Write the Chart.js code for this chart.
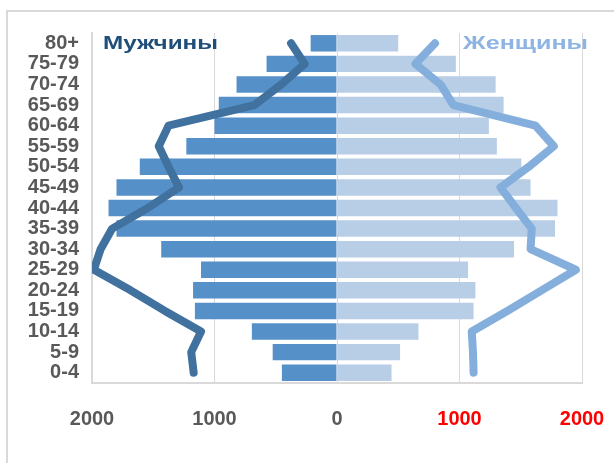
<!DOCTYPE html>
<html>
<head>
<meta charset="utf-8">
<script src="https://cdn.jsdelivr.net/npm/chart.js@4"></script>
<style>
  body { margin: 0; background: #fff; }
  canvas { display: block; }
</style>
</head>
<body>
<canvas id="pyramid" width="614" height="463"></canvas>
<script>
/* ─── data (bottom to top) ─── */
const ageGroups = ['0-4', '5-9', '10-14', '15-19', '20-24', '25-29', '30-34', '35-39', '40-44',
  '45-49', '50-54', '55-59', '60-64', '65-69', '70-74', '75-79', '80+'];
const maleBars = [450, 525, 695, 1160, 1175, 1110, 1435, 1800, 1865, 1800, 1610, 1230, 1000, 965, 820, 575, 215];
const femaleBars = [445, 515, 665, 1115, 1130, 1070, 1445, 1780, 1800, 1580, 1505, 1305, 1240, 1360, 1295, 970, 500];
const maleLine = [1170, 1190, 1110, 1405, 1685, 1985, 1930, 1835, 1545, 1290, 1375, 1455, 1375, 675, 455, 265, 375];
const femaleLine = [1115, 1110, 1100, 1390, 1670, 1950, 1580, 1590, 1460, 1335, 1565, 1770, 1620, 950, 845, 640, 800];
const xTicks = [-2000, -1000, 0, 1000, 2000];

const MALE_BAR = '#5590C9';
const FEMALE_BAR = '#B8CDE6';
const MALE_LINE = '#41729F';
const FEMALE_LINE = '#84AFDC';
const GRID = '#D9D9D9';
const LABEL = '#595959';

const neg = (arr) => arr.map(v => -v);

/* frame + series names */
const decor = {
  id: 'decor',
  beforeDraw(chart) {
    const c = chart.ctx;
    c.save();
    c.strokeStyle = GRID;
    c.lineWidth = 2;
    c.beginPath();
    c.moveTo(7, 463);
    c.lineTo(7, 11);
    c.lineTo(614, 11);
    c.stroke();
    c.restore();
  },
  afterDraw(chart) {
    const c = chart.ctx;
    const put = (text, x, w, color) => {
      c.save();
      c.font = 'bold 19px "Liberation Sans", Arial, sans-serif';
      c.fillStyle = color;
      c.textBaseline = 'middle';
      const sx = w / c.measureText(text).width;
      c.translate(x, 44);
      c.scale(sx, 1);
      c.fillText(text, 0, 0);
      c.restore();
    };
    put('Мужчины', 103, 115, '#1F4E79');
    put('Женщины', 463, 125, '#8EB4E3');
  }
};

new Chart(document.getElementById('pyramid'), {
  data: {
    labels: ageGroups,
    datasets: [
      {
        type: 'line', indexAxis: 'y', data: neg(maleLine), order: 0,
        borderColor: MALE_LINE, borderWidth: 8, pointRadius: 0,
        borderCapStyle: 'round', borderJoinStyle: 'round', tension: 0,
      },
      {
        type: 'line', indexAxis: 'y', data: femaleLine, order: 0,
        borderColor: FEMALE_LINE, borderWidth: 8, pointRadius: 0,
        borderCapStyle: 'round', borderJoinStyle: 'round', tension: 0,
      },
      {
        type: 'bar', indexAxis: 'y', data: neg(maleBars), order: 1, grouped: false,
        backgroundColor: MALE_BAR, barPercentage: 0.8, categoryPercentage: 1,
      },
      {
        type: 'bar', indexAxis: 'y', data: femaleBars, order: 1, grouped: false,
        backgroundColor: FEMALE_BAR, barPercentage: 0.8, categoryPercentage: 1,
      },
    ],
  },
  options: {
    responsive: false,
    animation: false,
    indexAxis: 'y',
    layout: { padding: { top: 33, right: 32, left: 0, bottom: 0 } },
    plugins: { legend: { display: false }, tooltip: { enabled: false } },
    scales: {
      x: {
        type: 'linear',
        min: -2000, max: 2000,
        afterBuildTicks: (scale) => { scale.ticks = xTicks.map(v => ({ value: v })); },
        afterFit: (scale) => {
          scale.height = 80;
          scale.paddingLeft = 0;
          scale.paddingRight = 0;
        },
        grid: { color: GRID, lineWidth: 1, drawTicks: false },
        border: { color: GRID, width: 2 },
        ticks: {
          padding: 24,
          font: { family: '"Liberation Sans", Arial, sans-serif', size: 20, weight: 'bold' },
          color: (ctx) => (ctx.tick && ctx.tick.value > 0 ? '#FF0000' : LABEL),
          callback: (v) => Math.abs(v),
        },
      },
      y: {
        type: 'category',
        reverse: true,
        afterFit: (scale) => { scale.width = 92; },
        grid: { display: false, drawTicks: false },
        border: { color: GRID, width: 2 },
        ticks: {
          padding: 13,
          autoSkip: false,
          font: { family: '"Liberation Sans", Arial, sans-serif', size: 20, weight: 'bold' },
          color: LABEL,
        },
      },
    },
  },
  plugins: [decor],
});
</script>
</body>
</html>
